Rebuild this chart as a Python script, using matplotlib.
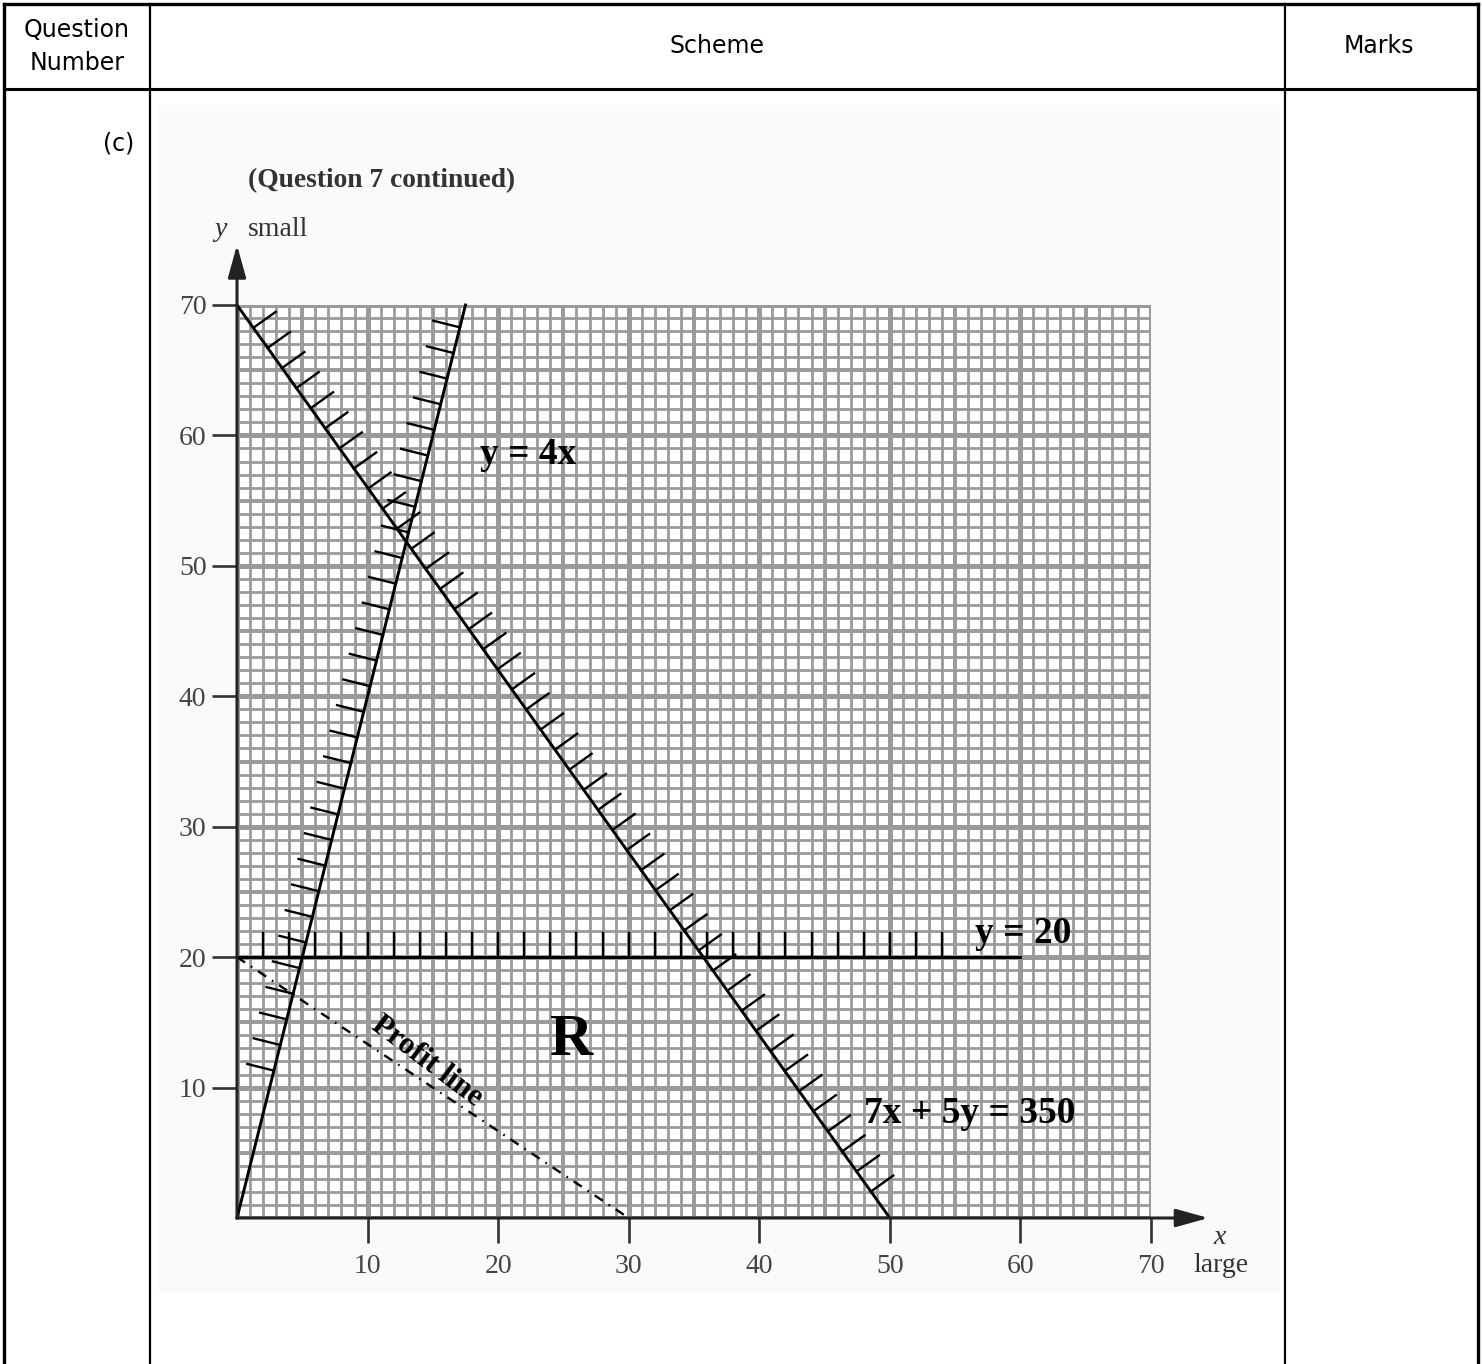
import numpy as np
import matplotlib.pyplot as plt

plt.rcParams['lines.scale_dashes'] = False

W, H = 1482, 1364

# axis ticks
x_ticks = [10, 20, 30, 40, 50, 60, 70]
y_ticks = [10, 20, 30, 40, 50, 60, 70]

# constraint lines (end points)
line_4x_x = [0, 17.5]
line_4x_y = [0, 70]
line_350_x = [0, 50]
line_350_y = [70, 0]
line_20_x = [0, 60]
line_20_y = [20, 20]
profit_x = [0, 30]
profit_y = [20, 0]

# where the hatch marks sit on each line
hatch_20_x = np.arange(2, 55, 2)
hatch_4x_y = np.arange(11.3, 68.5, 1.965)
hatch_350_x = np.arange(1.25, 49.0, 1.1)

serif = 'Liberation Serif'
sans = 'DejaVu Sans'
grid_col = '#9a9a9a'

fig = plt.figure(figsize=(W / 100, H / 100), dpi=100)

# page / table layer in pixel coordinates
bg = fig.add_axes([0, 0, 1, 1])
bg.set_xlim(0, W)
bg.set_ylim(H, 0)
bg.axis('off')

# faint scanned-page patch behind the graph
bg.fill_between([158, 1280], 105, 1292, color='#fafafa', lw=0)

bg.plot([4, 1478], [4, 4], color='black', lw=2.4)
bg.plot([4, 1478], [89, 89], color='black', lw=2.2)
bg.plot([4, 4], [4, H], color='black', lw=2.4)
bg.plot([1478, 1478], [4, H], color='black', lw=2.4)
bg.plot([150, 150], [4, H], color='black', lw=1.6)
bg.plot([1285, 1285], [4, H], color='black', lw=1.6)

bg.text(77, 30, 'Question', ha='center', va='center', fontsize=17, family=sans)
bg.text(77, 63, 'Number', ha='center', va='center', fontsize=17, family=sans)
bg.text(717, 46, 'Scheme', ha='center', va='center', fontsize=17, family=sans)
bg.text(1379, 46, 'Marks', ha='center', va='center', fontsize=17, family=sans)
bg.text(134, 143, '(c)', ha='right', va='center', fontsize=17, family=sans)

bg.text(248, 181, '(Question 7 continued)', ha='left', va='center',
        fontsize=19.8, family=serif, fontweight='bold', color='#333333')
bg.text(221, 230, 'y', ha='center', va='center', fontsize=20, family=serif,
        style='italic', color='#333333')
bg.text(248, 230, 'small', ha='left', va='center', fontsize=20, family=serif,
        color='#333333')
bg.text(1220, 1237, 'x', ha='center', va='center', fontsize=20, family=serif,
        style='italic', color='#333333')
bg.text(1193, 1265, 'large', ha='left', va='center', fontsize=20, family=serif,
        color='#333333')

# graph layer
ax = fig.add_axes([237 / W, (H - 1218) / H, 914 / W, 913 / H])
ax.set_xlim(0, 70)
ax.set_ylim(0, 70)
ax.set_facecolor('white')
for s in ax.spines.values():
    s.set_visible(False)

# graph paper
for v in range(71):
    if v % 10 == 0:
        w = 3.6
    elif v % 5 == 0:
        w = 2.8
    else:
        w = 2.0
    ax.plot([v, v], [0, 70], color=grid_col, lw=w, solid_capstyle='butt', zorder=1)
    ax.plot([0, 70], [v, v], color=grid_col, lw=w, solid_capstyle='butt', zorder=1)

ax.set_xticks(x_ticks)
ax.set_yticks(y_ticks)
ax.tick_params(direction='out', length=18, width=1.9, color='#333333',
               labelsize=20, labelcolor='#444444')
ax.tick_params(axis='x', pad=8)
ax.tick_params(axis='y', pad=4)
for lab in ax.get_xticklabels() + ax.get_yticklabels():
    lab.set_family(serif)

# axes with arrows
arrow = dict(arrowstyle='-|>,head_width=0.25,head_length=0.9', lw=2.2,
             color='#222222', mutation_scale=22, shrinkA=0, shrinkB=0)
ax.annotate('', xy=(0, 74.6), xytext=(0, 0), arrowprops=arrow, annotation_clip=False, zorder=5)
ax.annotate('', xy=(74.4, 0), xytext=(0, 0), arrowprops=arrow, annotation_clip=False, zorder=5)

# constraint lines
ax.plot(line_4x_x, line_4x_y, color='black', lw=2.1, zorder=4, clip_on=False)
ax.plot(line_350_x, line_350_y, color='black', lw=2.1, zorder=4, clip_on=False)
ax.plot(line_20_x, line_20_y, color='black', lw=2.1, zorder=4, clip_on=False)
ax.plot(profit_x, profit_y, color='black', lw=1.7, zorder=4,
        linestyle=(0, (7, 5, 1.2, 5)))

# hatching on the excluded side
L = 2.1
for hx in hatch_20_x:
    ax.plot([hx, hx], [20, 20 + 1.85], color='black', lw=1.7, zorder=4)

n4 = np.array([-4.0, 1.0]) / np.sqrt(17)
for hy in hatch_4x_y:
    px, py = hy / 4, hy
    ax.plot([px, px + L * n4[0]], [py, py + L * n4[1]], color='black', lw=1.7, zorder=4)

n350 = np.array([7.0, 5.0]) / np.sqrt(74)
for hx in hatch_350_x:
    hy = (350 - 7 * hx) / 5
    ax.plot([hx, hx + L * n350[0]], [hy, hy + L * n350[1]], color='black', lw=1.7, zorder=4)

# labels on the graph
ax.text(18.6, 58.5, 'y = 4x', ha='left', va='center', fontsize=27,
        family=serif, fontweight='bold', zorder=6)
ax.text(56.5, 21.8, 'y = 20', ha='left', va='center', fontsize=27,
        family=serif, fontweight='bold', zorder=6)
ax.text(48.0, 8.0, '7x + 5y = 350', ha='left', va='center', fontsize=27,
        family=serif, fontweight='bold', zorder=6)
ax.text(25.6, 13.6, 'R', ha='center', va='center', fontsize=43,
        family=serif, fontweight='bold', zorder=6)
ax.text(14.55, 12.0, 'Profit line', ha='center', va='center', fontsize=22,
        family=serif, fontweight='bold', rotation=-37, rotation_mode='anchor', zorder=6)

fig.savefig('out.png', dpi=100)
